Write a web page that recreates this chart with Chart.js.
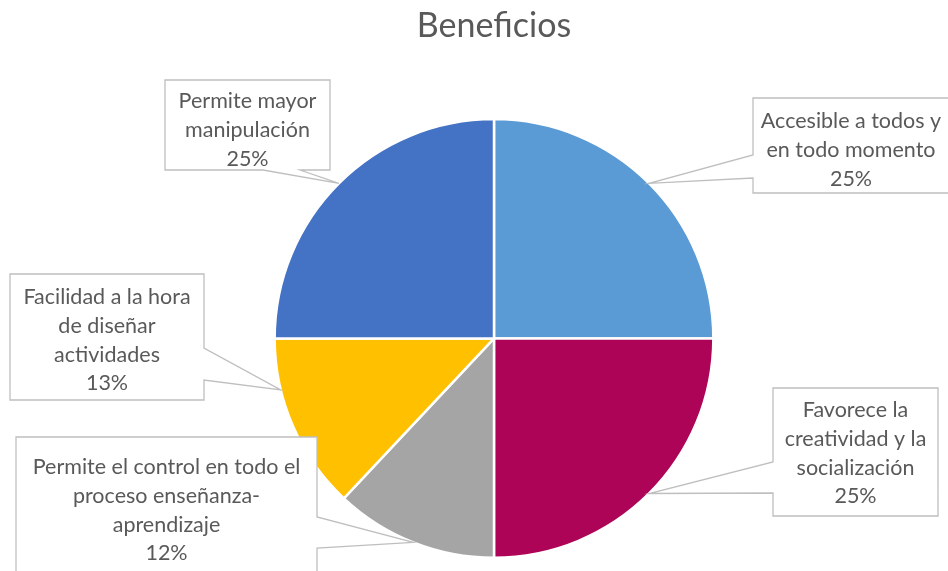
<!DOCTYPE html>
<html>
<head>
<meta charset="utf-8">
<script src="https://cdn.jsdelivr.net/npm/chart.js@4.4.1/dist/chart.umd.min.js"></script>
<style>
  html, body { margin: 0; padding: 0; background: #fff; }
  #wrap { width: 948px; height: 571px; }
</style>
</head>
<body>
<div id="wrap"><canvas id="pie"></canvas></div>
<script>
// Datos del gráfico
const categories = [
    'Accesible a todos y en todo momento',
    'Favorece la creatividad y la socialización',
    'Permite el control en todo el proceso enseñanza-aprendizaje',
    'Facilidad a la hora de diseñar actividades',
    'Permite mayor manipulación'
];
const values = [25, 25, 12, 13, 25];
const sliceColors = ['#5B9BD5', '#AE0457', '#A5A5A5', '#FFC000', '#4472C4'];

// Texto de cada etiqueta, ya partido en líneas como en el original
const labelLines = [
    ['Accesible a todos y', 'en todo momento'],
    ['Favorece la', 'creatividad y la', 'socialización'],
    ['Permite el control en todo el', 'proceso enseñanza-', 'aprendizaje'],
    ['Facilidad a la hora', 'de diseñar', 'actividades'],
    ['Permite mayor', 'manipulación']
];

// Posición de las llamadas (cajas) - solo maquetación
const callouts = [
    { x: 753, y: 98,  w: 196, h: 95,  side: 'left',   a: 155, b: 178, frac: 0.5, textTop: 121 },
    { x: 773, y: 388, w: 165, h: 128, side: 'left',   a: 462, b: 493, frac: 0.5, textTop: 410 },
    { x: 16,  y: 437, w: 301, h: 150, side: 'right',  a: 517, b: 548, frac: 0.5, textTop: 467 },
    { x: 10,  y: 274, w: 194, h: 126, side: 'right',  a: 348, b: 380, frac: 0.71, textTop: 297 },
    { x: 165, y: 80,  w: 165, h: 90,  side: 'bottom', a: 263, b: 300, frac: 0.5, textTop: 101 }
];

const FONT = 'Lato, "Open Sans", sans-serif';

// Plugin para dibujar las llamadas con su cuña hacia el sector
const calloutPlugin = {
    id: 'callouts',
    afterDatasetsDraw(chart) {
        const ctx = chart.ctx;
        const meta = chart.getDatasetMeta(0);
        meta.data.forEach((arc, i) => {
            const c = callouts[i];
            const p = arc.getProps(['x', 'y', 'startAngle', 'endAngle', 'outerRadius'], true);
            const ang = p.startAngle + c.frac * (p.endAngle - p.startAngle);
            const tx = p.x + p.outerRadius * Math.cos(ang);
            const ty = p.y + p.outerRadius * Math.sin(ang);
            const x0 = c.x, y0 = c.y, x1 = c.x + c.w, y1 = c.y + c.h;

            ctx.save();
            ctx.beginPath();
            if (c.side === 'left') {
                ctx.moveTo(x0, y0);
                ctx.lineTo(x1, y0);
                ctx.lineTo(x1, y1);
                ctx.lineTo(x0, y1);
                ctx.lineTo(x0, c.b);
                ctx.lineTo(tx, ty);
                ctx.lineTo(x0, c.a);
            } else if (c.side === 'right') {
                ctx.moveTo(x0, y0);
                ctx.lineTo(x1, y0);
                ctx.lineTo(x1, c.a);
                ctx.lineTo(tx, ty);
                ctx.lineTo(x1, c.b);
                ctx.lineTo(x1, y1);
                ctx.lineTo(x0, y1);
            } else {
                ctx.moveTo(x0, y0);
                ctx.lineTo(x1, y0);
                ctx.lineTo(x1, y1);
                ctx.lineTo(c.b, y1);
                ctx.lineTo(tx, ty);
                ctx.lineTo(c.a, y1);
                ctx.lineTo(x0, y1);
            }
            ctx.closePath();
            ctx.fillStyle = '#FFFFFF';
            ctx.fill();
            ctx.strokeStyle = '#BFBFBF';
            ctx.lineWidth = 1.3;
            ctx.stroke();

            ctx.fillStyle = '#595959';
            ctx.font = '21.5px ' + FONT;
            ctx.textAlign = 'center';
            ctx.textBaseline = 'middle';
            const cx = c.x + c.w / 2;
            const lines = labelLines[i].concat([values[i] + '%']);
            lines.forEach((t, k) => ctx.fillText(t, cx, c.textTop + k * 28.8));
            ctx.restore();
        });
    }
};

new Chart(document.getElementById('pie'), {
    type: 'pie',
    data: {
        labels: categories,
        datasets: [{
            data: values,
            backgroundColor: sliceColors,
            borderColor: '#FFFFFF',
            borderWidth: 2.5
        }]
    },
    options: {
        responsive: true,
        maintainAspectRatio: false,
        animation: false,
        layout: { padding: { left: 40, right: 0, top: 0, bottom: 12 } },
        plugins: {
            legend: { display: false },
            tooltip: { enabled: false },
            title: {
                display: true,
                text: 'Beneficios',
                color: '#595959',
                font: { family: FONT, size: 34, weight: 'normal' },
                padding: { top: 6, bottom: 71 }
            }
        }
    },
    plugins: [calloutPlugin]
});
</script>
</body>
</html>
